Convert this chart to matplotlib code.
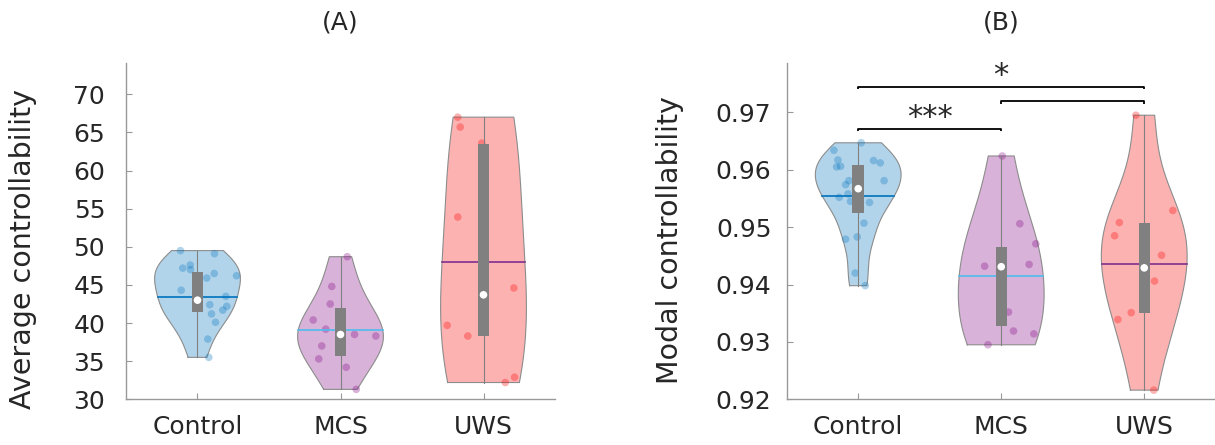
import numpy as np
import matplotlib
matplotlib.use("Agg")
import matplotlib.pyplot as plt

groups = ["Control", "MCS", "UWS"]

# ---- (A) average controllability: per-subject values and horizontal jitter ----
avg_control = [49.5, 49.1, 47.6, 47.2, 47.0, 46.5, 45.9, 46.2, 44.3, 43.5,
               42.4, 42.2, 41.7, 41.2, 40.1, 37.9, 35.5]
avg_control_jit = [-0.119, 0.119, -0.051, -0.103, -0.049, 0.117, 0.065, 0.273, -0.114, 0.198,
                   0.086, 0.205, 0.177, 0.098, 0.126, 0.072, 0.079]
avg_mcs = [48.7, 44.8, 42.5, 40.4, 39.2, 38.5, 38.3, 37.0, 35.3, 34.2, 31.3]
avg_mcs_jit = [0.047, -0.061, -0.072, -0.191, -0.103, 0.098, 0.247, -0.131, -0.152, 0.040, 0.110]
avg_uws = [67.0, 65.7, 63.6, 53.9, 44.6, 39.7, 38.3, 32.9, 32.2]
avg_uws_jit = [-0.180, -0.163, -0.012, -0.180, 0.212, -0.254, -0.110, 0.217, 0.152]

avg_median = [43.0, 38.5, 43.7]
avg_q1 = [41.4, 35.7, 38.3]
avg_q3 = [46.7, 42.0, 63.5]
avg_mean = [43.4, 39.1, 48.0]

# ---- (B) modal controllability ----
mod_control = [0.9634, 0.9617, 0.9605, 0.9606, 0.9647, 0.9616, 0.9612, 0.9581, 0.9581, 0.9574,
               0.9558, 0.9552, 0.9545, 0.9543, 0.9507, 0.9479, 0.9483, 0.9420, 0.9398]
mod_control_jit = [-0.170, -0.142, -0.151, -0.123, 0.021, 0.107, 0.154, 0.181, -0.065, -0.088,
                   -0.072, -0.133, -0.054, 0.079, 0.040, -0.088, -0.007, -0.021, 0.049]
mod_mcs = [0.9624, 0.9506, 0.9471, 0.9432, 0.9435, 0.9352, 0.9319, 0.9314, 0.9295]
mod_mcs_jit = [0.007, 0.130, 0.242, -0.116, 0.195, 0.051, 0.086, 0.228, -0.093]
mod_uws = [0.9695, 0.9529, 0.9508, 0.9485, 0.9451, 0.9406, 0.9351, 0.9339, 0.9216]
mod_uws_jit = [-0.058, 0.200, -0.174, -0.207, 0.121, 0.072, -0.091, -0.184, 0.067]

mod_median = [0.9567, 0.9431, 0.9429]
mod_q1 = [0.9524, 0.9327, 0.9351]
mod_q3 = [0.9608, 0.9466, 0.9508]
mod_mean = [0.9555, 0.9414, 0.9435]

# significance brackets for (B): (from group, to group, height, label)
mod_pairs = [(1, 2, 0.9671, "***"), (2, 3, 0.9719, ""), (1, 3, 0.9744, "*")]

violin_colors = [(0.0, 0.447, 0.741), (0.5, 0.0, 0.5), (0.98, 0.0, 0.0)]
mean_colors = [(0.0, 0.447, 0.741), (0.30, 0.745, 0.933), (0.494, 0.184, 0.556)]
TEXT = "#262626"
AXIS = "0.6"
HALF_WIDTH = 0.3


def violin_profile(vals, n=100):
    """Gaussian KDE (robust bandwidth) evaluated between min and max of the data."""
    vals = np.asarray(vals, dtype=float)
    sig = np.median(np.abs(vals - np.median(vals))) / 0.6745
    bw = sig * (4.0 / (3.0 * len(vals))) ** 0.2
    y = np.linspace(vals.min(), vals.max(), n)
    dens = np.exp(-0.5 * ((y[:, None] - vals[None, :]) / bw) ** 2).sum(axis=1)
    return y, dens / dens.max() * HALF_WIDTH


def draw_violins(ax, data, jitter, medians, q1, q3, means):
    for i, (vals, jit) in enumerate(zip(data, jitter)):
        pos = i + 1
        col = violin_colors[i]
        y, w = violin_profile(vals)
        ax.fill_betweenx(y, pos - w, pos + w, facecolor=col, alpha=0.3,
                         edgecolor="none", zorder=1)
        outline_x = np.concatenate([pos - w, (pos + w)[::-1], [pos - w[0]]])
        outline_y = np.concatenate([y, y[::-1], [y[0]]])
        ax.plot(outline_x, outline_y, color="0.55", lw=0.8, zorder=2)
        ax.scatter(pos + np.asarray(jit), vals, s=30, color=col, alpha=0.3,
                   edgecolors="none", zorder=3)
        ax.plot([pos, pos], [min(vals), max(vals)], color="0.5", lw=0.8, zorder=4)
        wm = np.interp(means[i], y, w)
        ax.plot([pos - wm, pos + wm], [means[i], means[i]], color=mean_colors[i],
                lw=1.2, zorder=5)
        ax.bar(pos, q3[i] - q1[i], bottom=q1[i], width=0.08, color="0.5",
               edgecolor="none", zorder=6)
        ax.scatter([pos], [medians[i]], s=30, color="white", edgecolors="none", zorder=7)


def style_axes(ax, ylabel, title, label_xy, label_pad):
    for side in ("top", "right"):
        ax.spines[side].set_visible(False)
    for side in ("left", "bottom"):
        ax.spines[side].set_color(AXIS)
        ax.spines[side].set_linewidth(1.0)
    ax.tick_params(direction="in", length=4, width=0.8, color=AXIS,
                   labelcolor=TEXT, labelsize=18)
    ax.tick_params(axis="y", pad=label_pad)
    ax.tick_params(axis="x", pad=11)
    ax.set_xlim(0.5, 3.5)
    ax.set_xticks([1, 2, 3])
    ax.set_xticklabels(groups)
    ax.set_ylabel(ylabel, fontsize=20.5, color=TEXT)
    ax.yaxis.set_label_coords(*label_xy)
    ax.set_title(title, fontsize=18, color=TEXT, pad=24)


fig = plt.figure(figsize=(12.15, 4.45), dpi=100)
ax_a = fig.add_axes([0.1037, 0.1027, 0.3531, 0.7557])
ax_b = fig.add_axes([0.6475, 0.1027, 0.3531, 0.7557])

draw_violins(ax_a, [avg_control, avg_mcs, avg_uws],
             [avg_control_jit, avg_mcs_jit, avg_uws_jit],
             avg_median, avg_q1, avg_q3, avg_mean)
ax_a.set_ylim(30, 74.1)
ax_a.set_yticks(np.arange(30, 71, 5))
style_axes(ax_a, "Average controllability", "(A)", (-0.207, 0.447), 15)

draw_violins(ax_b, [mod_control, mod_mcs, mod_uws],
             [mod_control_jit, mod_mcs_jit, mod_uws_jit],
             mod_median, mod_q1, mod_q3, mod_mean)
ax_b.set_ylim(0.92, 0.9786)
ax_b.set_yticks(np.round(np.arange(0.92, 0.971, 0.01), 2))
ax_b.set_yticklabels([f"{t:.2f}" for t in np.arange(0.92, 0.971, 0.01)])
style_axes(ax_b, "Modal controllability", "(B)", (-0.239, 0.474), 11)

drop = 0.0004
for g1, g2, h, label in mod_pairs:
    ax_b.plot([g1, g1, g2, g2], [h - drop, h, h, h - drop], color="black",
              lw=1.3, solid_capstyle="butt", zorder=8, clip_on=False)
    if label:
        ax_b.text((g1 + g2) / 2, h + 0.0005, label, ha="center", va="baseline",
                  fontsize=22, color=TEXT)

fig.savefig("out.png", dpi=100)
plt.close(fig)
